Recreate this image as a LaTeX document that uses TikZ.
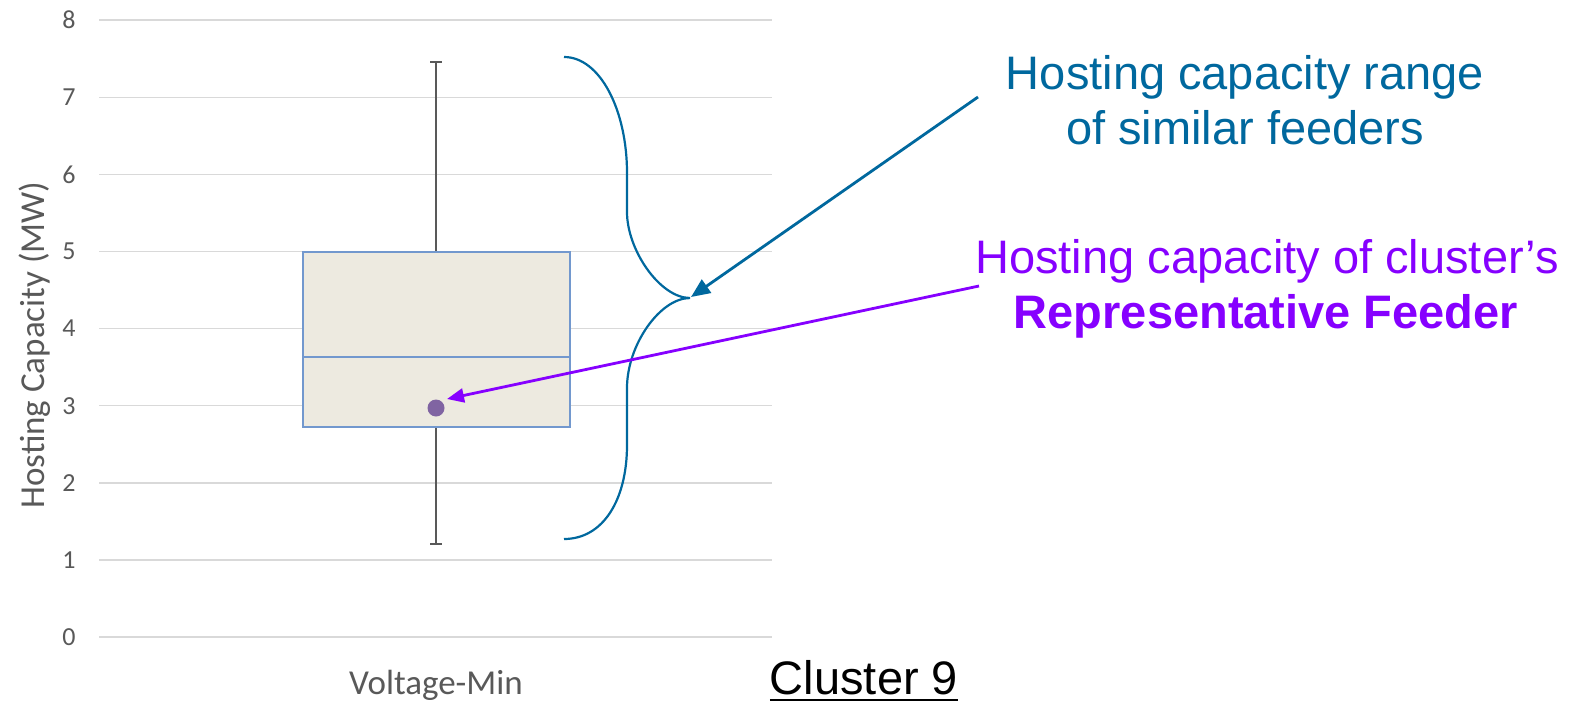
\documentclass[tikz,border=0pt]{standalone}
\usepackage{fontspec}
\setmainfont{Liberation Sans}
\newfontfamily\calfont{Carlito}
\usetikzlibrary{arrows.meta}
\definecolor{hcblue}{RGB}{0,104,158}
\definecolor{hcpurple}{RGB}{134,0,255}
\definecolor{gridgray}{RGB}{217,217,217}
\definecolor{axgray}{RGB}{89,89,89}
\definecolor{boxfill}{RGB}{237,234,224}
\definecolor{boxline}{RGB}{114,152,206}
\definecolor{dotpurple}{RGB}{128,100,162}
\tikzset{
  gridline/.style={draw=gridgray, line width=1.5pt},
  ticklabel/.style={text=axgray, inner sep=0pt, font=\calfont\fontsize{26}{30}\selectfont},
  axtitle/.style={text=axgray, inner sep=0pt, font=\calfont\fontsize{35}{40}\selectfont},
  boxbody/.style={draw=boxline, fill=boxfill, line width=1.8pt},
  whisker/.style={draw=axgray, line width=1.5pt},
  bracecurve/.style={draw=hcblue, line width=2.2pt},
  bluearrow/.style={draw=hcblue, line width=2.8pt, -{Triangle[length=19pt,width=16pt]}},
  purplearrow/.style={draw=hcpurple, line width=2.8pt, -{Triangle[length=17pt,width=14pt]}},
  bluetext/.style={text=hcblue, inner sep=0pt, anchor=base, font=\fontsize{47}{55}\selectfont},
  purpletext/.style={text=hcpurple, inner sep=0pt, anchor=base, font=\fontsize{47}{55}\selectfont},
}
\begin{document}
\begin{tikzpicture}[x=1pt,y=-1pt]
\useasboundingbox (0,0) rectangle (1579,704);
\fill[white] (0,0) rectangle (1579,704);
% grid and tick labels
\foreach \v in {0,...,8}{
  \draw[gridline] (99,{637-77.1*\v}) -- (772,{637-77.1*\v});
  \node[ticklabel] (t\v) at (69,{637-77.1*\v}) {\v};
}
\node[axtitle, rotate=90] (ytitle) at (35,345) {Hosting Capacity (MW)};
% whiskers
\draw[whisker] (436,62) -- (436,251);
\draw[whisker] (436,426) -- (436,544);
\draw[whisker] (430,62) -- (442,62);
\draw[whisker] (430,544) -- (442,544);
% box
\node[boxbody, minimum width=267pt, minimum height=175pt, inner sep=0pt, anchor=north west] (box) at (302,251) {};
\draw[draw=boxline, line width=1.8pt] (302,357) -- (569,357);
% representative point
\node[circle, fill=dotpurple, minimum size=17pt, inner sep=0pt] (pt) at (436,408) {};
% brace
\draw[bracecurve] (564,57) .. controls (600,57) and (627,110) .. (627,173)
  -- (627,212) .. controls (627,250) and (660,298) .. (690,298)
  .. controls (660,298) and (627,345) .. (627,388)
  -- (627,445) .. controls (627,500) and (603,539) .. (564,539);
\coordinate (tip) at (691,297);
% labels
\node[bluetext] (b1) at (1245,89) {Hosting capacity range};
\node[bluetext] (b2) at (1245,144) {of similar feeders};
\node[purpletext] (p1) at (1267,273) {Hosting capacity of cluster’s};
\node[purpletext, font=\bfseries\fontsize{47}{55}\selectfont] (p2) at (1266,328) {Representative Feeder};
\coordinate (bstart) at (978,97);
\coordinate (pstart) at (979,286);
\coordinate (ptip) at (447,399);
\draw[bluearrow] (bstart) -- (tip);
\draw[purplearrow] (pstart) -- (ptip);
% category and cluster
\node[axtitle, anchor=base] (cat) at (436,694) {Voltage-Min};
\node[inner sep=0pt, anchor=base, font=\fontsize{47}{55}\selectfont] (cl) at (864,694) {Cluster 9};
\draw[line width=2.2pt] ([yshift=-6pt]cl.base west) -- ([yshift=-6pt]cl.base east);
\end{tikzpicture}
\end{document}
